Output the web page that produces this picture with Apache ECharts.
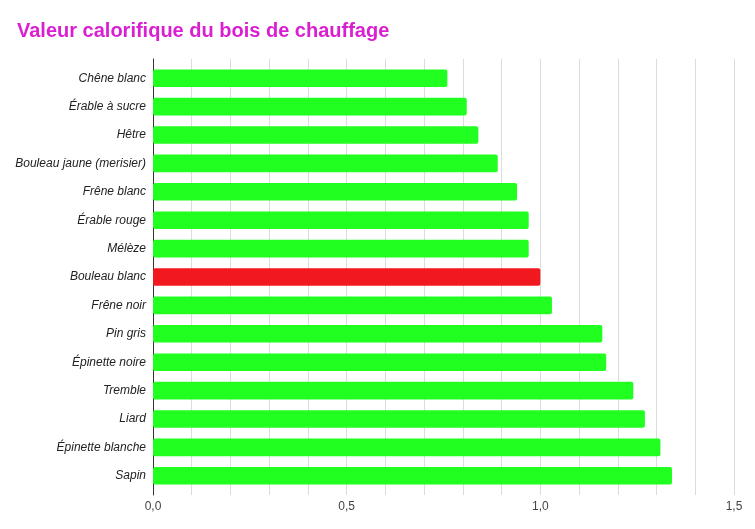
<!DOCTYPE html>
<html>
<head>
<meta charset="utf-8">
<script src="https://cdn.jsdelivr.net/npm/echarts@6/dist/echarts.min.js"></script>
<style>html,body{margin:0;padding:0;background:#fff}#c{width:755px;height:529px}</style>
</head>
<body>
<div id="c"></div>
<script>
const titleText = "Valeur calorifique du bois de chauffage";
const categories = ["Chêne blanc","Érable à sucre","Hêtre","Bouleau jaune (merisier)","Frêne blanc","Érable rouge","Mélèze","Bouleau blanc","Frêne noir","Pin gris","Épinette noire","Tremble","Liard","Épinette blanche","Sapin"];
const values = [0.76,0.81,0.84,0.89,0.94,0.97,0.97,1.00,1.03,1.16,1.17,1.24,1.27,1.31,1.34];
const highlighted = "Bouleau blanc";
const tickLabels = {"0":"0,0","0.5":"0,5","1":"1,0","1.5":"1,5"};

const font = 'Liberation Sans, Arial';
const chart = echarts.init(document.getElementById('c'));
chart.setOption({
  animation:false,
  title:{text:titleText,left:12,top:16,textStyle:{fontFamily:font,fontSize:20,fontWeight:'bold',color:'#da1fd2'}},
  grid:[
    {left:153,right:21,top:59,bottom:34},
    {left:153,right:21,top:64,bottom:39}
  ],
  xAxis:[
    {gridIndex:0,type:'value',min:0,max:1.5,interval:0.1,
      axisLine:{show:false},axisTick:{show:false},
      splitLine:{show:true,lineStyle:{color:'#dcdcdc',width:1}},
      axisLabel:{margin:6,fontFamily:font,fontSize:12,color:'#444',
        formatter:function(v){const k=String(Math.round(v*10)/10);return tickLabels[k]!==undefined?tickLabels[k]:'';},
        showMinLabel:true,showMaxLabel:true}},
    {gridIndex:1,type:'value',min:0,max:1.5,show:false,splitLine:{show:false}}
  ],
  yAxis:[
    {gridIndex:0,type:'value',min:0,max:1,
      axisLine:{show:true,lineStyle:{color:'#333',width:1}},axisTick:{show:false},
      axisLabel:{show:false},splitLine:{show:false}},
    {gridIndex:1,type:'category',inverse:true,data:categories,
      axisLine:{show:false},axisTick:{show:false},
      axisLabel:{margin:7,fontFamily:font,fontSize:12,fontStyle:'italic',color:'#222'}}
  ],
  series:[{type:'bar',xAxisIndex:1,yAxisIndex:1,barWidth:'62%',
    data:values.map((v,i)=>({value:v,itemStyle:{color:categories[i]===highlighted?'#f2181f':'#21ff21',borderRadius:2}}))}]
});
</script>
</body>
</html>
